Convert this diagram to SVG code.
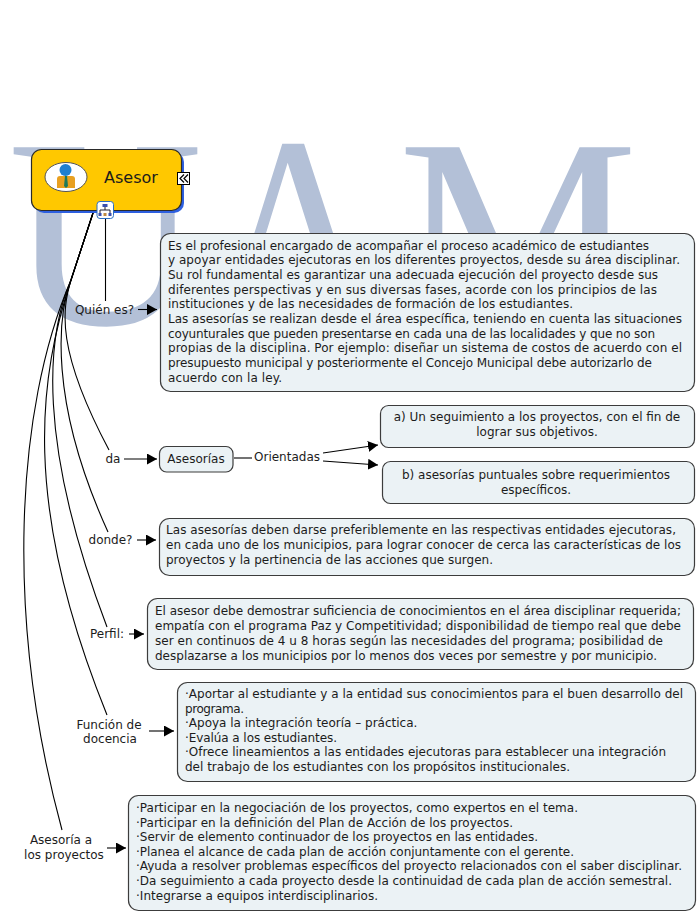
<svg xmlns="http://www.w3.org/2000/svg" width="699" height="913" viewBox="0 0 699 913">
<style>
text{font-family:"DejaVu Sans",Verdana,sans-serif;font-size:12px;fill:#1c1c1c}
.wm{font-family:"Liberation Serif",serif;font-size:270px;fill:#b3c0d7}
.box{fill:#ebf2f5;stroke:#3c3c3c;stroke-width:1.2}
.c{fill:none;stroke:#000;stroke-width:1.1}
.m{text-anchor:middle}
</style>
<defs>
<marker id="ah" markerUnits="userSpaceOnUse" markerWidth="11" markerHeight="11" refX="10" refY="5.5" orient="auto"><path d="M0 0L10 5.5L0 11z" fill="#000"/></marker>
</defs>
<rect width="699" height="913" fill="#fff"/>
<g id="watermark">
<text class="wm" x="8" y="324">U</text>
<text class="wm" transform="translate(298 0) scale(.87 1)" x="-101" y="322">A</text>
<text class="wm" x="398" y="324">M</text>
</g>
<g id="connectors">
<path class="c" d="M105.500 218V301"/>
<path class="c" d="M93 213L71 280C62 310 56 350 109 450"/>
<path class="c" d="M93 213L71 280C58 315 48 400 108 532"/>
<path class="c" d="M93 213L71 280C47 335 36 440 107 627"/>
<path class="c" d="M93 213L71 280C40 375 20 500 107 715"/>
<path class="c" d="M93 213L71 280C15 410 5 620 62 830"/>
<path class="c" marker-end="url(#ah)" d="M138 309.500H157"/>
<path class="c" marker-end="url(#ah)" d="M124 459H157"/>
<path class="c" d="M234 458H252"/>
<path class="c" marker-end="url(#ah)" d="M323 453L378 445"/>
<path class="c" marker-end="url(#ah)" d="M323 461L378 465"/>
<path class="c" marker-end="url(#ah)" d="M137 540H156"/>
<path class="c" marker-end="url(#ah)" d="M129 634H144"/>
<path class="c" marker-end="url(#ah)" d="M149 731H174"/>
<path class="c" marker-end="url(#ah)" d="M107 848H126"/>
</g>
<g id="asesor">
<rect x="34" y="152" width="150" height="61" rx="10" fill="#2d5fe0"/>
<rect x="31.500" y="149.500" width="150" height="61" rx="10" fill="#ffc800" stroke="#2a2a2a" stroke-width="1.2"/>
<ellipse cx="66" cy="177" rx="21" ry="14.500" fill="#fff" stroke="#555" stroke-width="1"/>
<path d="M57 179q0-3 3-3h12q3 0 3 3v9h-18z" fill="#e8a020"/>
<path d="M65 176h2l1 10-2 2-2-2z" fill="#1d7a5a"/>
<circle cx="65.500" cy="170" r="6" fill="#1f7fd0"/>
<text x="104" y="183" style="font-size:16px">Asesor</text>
<rect x="177.500" y="172.500" width="12" height="12" fill="#fff" stroke="#000"/>
<path d="M184 174.500l-4 4 4 4M188 174.500l-4 4 4 4" fill="none" stroke="#000" stroke-width="1.200"/>
<rect x="97" y="201.500" width="16.500" height="17" rx="3" fill="#fff" stroke="#2d6fc0"/>
<path d="M105 207v3M100 213v-3h10v3" fill="none" stroke="#223"/>
<rect x="102.500" y="204" width="5" height="3" fill="#3a50b0"/>
<rect x="98.500" y="213" width="3" height="3" fill="#3a50b0"/>
<rect x="103.500" y="213" width="3" height="3" fill="#c08a40"/>
<rect x="108.500" y="213" width="3" height="3" fill="#3a50b0"/>
</g>
<g id="quien-label"><text class="m" x="104.500" y="314">Quién es?</text></g>
<g id="quien-text">
<rect class="box" x="160.500" y="233.500" width="534" height="158" rx="10"/>
<text x="168" y="249.500" textLength="481">Es el profesional encargado de acompañar el proceso académico de estudiantes</text>
<text x="168" y="264.200" textLength="512">y apoyar entidades ejecutoras en los diferentes proyectos, desde su área disciplinar.</text>
<text x="168" y="278.900" textLength="490">Su rol fundamental es garantizar una adecuada ejecución del proyecto desde sus</text>
<text x="168" y="293.600" textLength="489">diferentes perspectivas y en sus diversas fases, acorde con los principios de las</text>
<text x="168" y="308.300" textLength="405">instituciones y de las necesidades de formación de los estudiantes.</text>
<text x="168" y="323" textLength="514">Las asesorías se realizan desde el área específica, teniendo en cuenta las situaciones</text>
<text x="168" y="337.700" textLength="487">coyunturales que pueden presentarse en cada una de las localidades y que no son</text>
<text x="168" y="352.400" textLength="514">propias de la disciplina. Por ejemplo: diseñar un sistema de costos de acuerdo con el</text>
<text x="168" y="367.100" textLength="484">presupuesto municipal y posteriormente el Concejo Municipal debe autorizarlo de</text>
<text x="168" y="381.800" textLength="114">acuerdo con la ley.</text>
</g>
<g id="da-label"><text class="m" x="113" y="463">da</text></g>
<g id="asesorias">
<rect class="box" x="159.500" y="446.500" width="73.500" height="25.500" rx="7"/>
<text class="m" x="196" y="463">Asesorías</text>
</g>
<g id="orientadas-label"><text class="m" x="287" y="461">Orientadas</text></g>
<g id="opcion-a">
<rect class="box" x="380.500" y="405.500" width="314" height="42" rx="8"/>
<text class="m" x="537" y="421">a) Un seguimiento a los proyectos, con el fin de</text>
<text class="m" x="537" y="436">lograr sus objetivos.</text>
</g>
<g id="opcion-b">
<rect class="box" x="382.500" y="461.500" width="312" height="42" rx="8"/>
<text class="m" x="536" y="479">b) asesorías puntuales sobre requerimientos</text>
<text class="m" x="536" y="494">específicos.</text>
</g>
<g id="donde-label"><text class="m" x="110.500" y="544">donde?</text></g>
<g id="donde-text">
<rect class="box" x="159.500" y="518.500" width="535" height="57" rx="10"/>
<text x="166" y="534" textLength="510">Las asesorías deben darse preferiblemente en las respectivas entidades ejecutoras,</text>
<text x="166" y="549" textLength="515">en cada uno de los municipios, para lograr conocer de cerca las características de los</text>
<text x="166" y="564" textLength="327">proyectos y la pertinencia de las acciones que surgen.</text>
</g>
<g id="perfil-label"><text class="m" x="107" y="638">Perfil:</text></g>
<g id="perfil-text">
<rect class="box" x="147.500" y="598.500" width="546" height="71" rx="10"/>
<text x="155" y="615" textLength="526">El asesor debe demostrar suficiencia de conocimientos en el área disciplinar requerida;</text>
<text x="155" y="630" textLength="526">empatía con el programa Paz y Competitividad; disponibilidad de tiempo real que debe</text>
<text x="155" y="645" textLength="508">ser en continuos de 4 u 8 horas según las necesidades del programa; posibilidad de</text>
<text x="155" y="660" textLength="502">desplazarse a los municipios por lo menos dos veces por semestre y por municipio.</text>
</g>
<g id="funcion-label">
<text class="m" x="109" y="729">Función de</text>
<text class="m" x="110" y="743">docencia</text>
</g>
<g id="funcion-text">
<rect class="box" x="177.500" y="682.500" width="518" height="99" rx="10"/>
<text x="185" y="698" textLength="498">·Aportar al estudiante y a la entidad sus conocimientos para el buen desarrollo del</text>
<text x="185" y="713" textLength="59">programa.</text>
<text x="185" y="727">·Apoya la integración teoría – práctica.</text>
<text x="185" y="742" textLength="152">·Evalúa a los estudiantes.</text>
<text x="185" y="756" textLength="481">·Ofrece lineamientos a las entidades ejecutoras para establecer una integración</text>
<text x="185" y="771" textLength="385">del trabajo de los estudiantes con los propósitos institucionales.</text>
</g>
<g id="asesoria-label">
<text class="m" x="61" y="844">Asesoría a</text>
<text class="m" x="64" y="859">los proyectos</text>
</g>
<g id="asesoria-text">
<rect class="box" x="128.500" y="795.500" width="567" height="115" rx="10"/>
<text x="136" y="812" textLength="442">·Participar en la negociación de los proyectos, como expertos en el tema.</text>
<text x="136" y="827" textLength="377">·Participar en la definición del Plan de Acción de los proyectos.</text>
<text x="136" y="841" textLength="402">·Servir de elemento continuador de los proyectos en las entidades.</text>
<text x="136" y="856" textLength="438">·Planea el alcance de cada plan de acción conjuntamente con el gerente.</text>
<text x="136" y="870" textLength="546">·Ayuda a resolver problemas específicos del proyecto relacionados con el saber disciplinar.</text>
<text x="136" y="885" textLength="536">·Da seguimiento a cada proyecto desde la continuidad de cada plan de acción semestral.</text>
<text x="136" y="900" textLength="242">·Integrarse a equipos interdisciplinarios.</text>
</g>
</svg>
